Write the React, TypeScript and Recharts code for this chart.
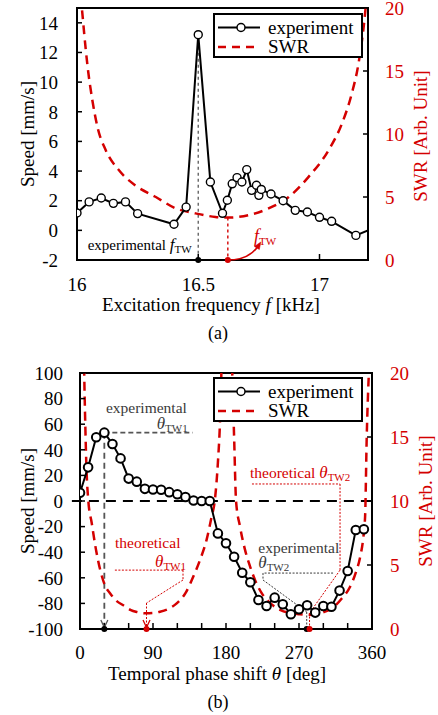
import React from "react";
import {
  ComposedChart,
  Line,
  XAxis,
  YAxis,
  ReferenceLine,
  ReferenceDot,
  ReferenceArea,
} from "recharts";

const SERIF = 'Liberation Serif, Tinos, Times New Roman, Times, DejaVu Serif, serif';
const RED = "#d40000";
const GRAY = "#3a3a3a";

// ---- (a) frequency sweep
const freqA = [16.0, 16.05, 16.1, 16.15, 16.2, 16.25, 16.4, 16.45, 16.5, 16.55, 16.6, 16.62, 16.64, 16.66, 16.68, 16.7, 16.72, 16.74, 16.75, 16.76, 16.8, 16.85, 16.9, 16.95, 17.0, 17.05, 17.15, 17.2];
const speedA = [1.17, 1.92, 2.18, 1.82, 1.92, 1.13, 0.41, 1.57, 13.2, 3.26, 1.15, 2.03, 3.14, 3.56, 3.26, 4.1, 2.7, 3.04, 2.36, 2.76, 2.45, 2.0, 1.35, 1.24, 0.88, 0.61, -0.34, 0.0];
const swrFreqA = [16.014, 16.021, 16.03, 16.044, 16.064, 16.085, 16.119, 16.174, 16.242, 16.325, 16.407, 16.489, 16.571, 16.626, 16.708, 16.79, 16.873, 16.955, 17.037, 17.092, 17.133, 17.16, 17.185, 17.195];
const swrA = [21, 19.8, 17.9, 15.3, 12.6, 10.5, 8.7, 7.1, 5.9, 5.0, 4.1, 3.7, 3.42, 3.37, 3.56, 4.09, 5.0, 6.6, 8.7, 10.8, 13.2, 15.5, 19.0, 21];
const freqTicks = [16, 16.5, 17];
const speedTicksA = [-2, 0, 2, 4, 6, 8, 10, 12, 14];
const swrTicks = [0, 5, 10, 15, 20];
const expFtw = 16.5;
const theoFtw = 16.622;
const theoFtwSwr = 3.37;

// ---- (b) phase sweep
const phaseB = [0, 10, 20, 30, 40, 50, 60, 70, 80, 90, 100, 110, 120, 130, 140, 150, 160, 170, 180, 190, 200, 210, 220, 230, 240, 250, 260, 270, 280, 290, 300, 310, 320, 330, 340, 350];
const speedB = [6.5, 26.3, 49.8, 53.4, 44.5, 33.3, 17.5, 15.1, 9.5, 9.0, 8.8, 6.9, 5.3, 3.1, 0.4, 0, 0, -25.3, -33, -43.5, -56, -63.5, -77.3, -82, -75.5, -80.7, -88.5, -84.6, -81.5, -87.2, -82, -82.6, -70, -54.7, -22.6, -22.1];
const swrPhaseB = [5, 6.5, 8, 10.3, 14.4, 19.7, 25, 30.8, 37, 45, 53.4, 62, 70, 81.4, 90, 98.6, 110, 119.2, 130, 139.7, 148, 156.2, 162, 166.5, 170, 172.6, 174.5, 181, 187.5, 190, 192.4, 197.3, 203, 209.6, 216, 224, 235, 246.6, 259, 271.3, 287.7, 300, 312.3, 323, 333, 340, 345.3, 349, 351.5, 353.5, 356.5];
const swrB = [20.5, 16, 12.5, 10, 8.3, 6.2, 4.6, 3.4, 2.8, 2.2, 1.85, 1.5, 1.33, 1.23, 1.25, 1.35, 1.6, 2.0, 2.8, 4.1, 5.4, 7, 8.7, 10.2, 13, 16.2, 20.5, null, 20.5, 15, 10, 8, 6.3, 4.9, 3.8, 2.8, 2.0, 1.5, 1.25, 1.15, 1.1, 1.3, 1.7, 2.4, 3.3, 4.4, 5.6, 7, 8.8, 15, 20.5];
const phaseTicks = [0, 30, 60, 90, 120, 150, 180, 210, 240, 270, 300, 330, 360];
const speedTicksB = [-100, -80, -60, -40, -20, 0, 20, 40, 60, 80, 100];
const expTheta1 = 30;
const theoTheta1 = 82;
const expTheta2 = 279.5;
const theoTheta2 = 283;

// annotation leader lines (data units, left axis)
const theo1Path = [[43, -54], [127, -54], [127, -61.7], [82, -79.7], [82, -100]];
const theo2Path = [[212, 13.3], [320.6, 13.3], [320.6, -54], [283, -87.5], [283, -100]];
const exp2Path = [[312, -56.3], [225.6, -56.3], [225.6, -61.7], [279.5, -86.7], [279.5, -100]];

const rowsA = freqA.map((x, i) => ({ x, v: speedA[i] }));
const swrRowsA = swrFreqA.map((x, i) => ({ x, v: swrA[i] }));
const rowsB = phaseB.map((x, i) => ({ x, v: speedB[i] }));
const swrRowsB = swrPhaseB.map((x, i) => ({ x, v: swrB[i] }));

const tickFont = { fontFamily: SERIF, fontSize: 19, fill: "#000" };
const axisLine = { stroke: "#000", strokeWidth: 2 };
const tickLine = { stroke: "#000", strokeWidth: 1.5 };

const segs = (pts: number[][]) =>
  pts.slice(1).map((p, i) => [
    { x: pts[i][0], y: pts[i][1] },
    { x: p[0], y: p[1] },
  ]);

const note = (content: React.ReactNode, fill: string, size = 15.5) => (p: any) => (
  <text x={p.cx} y={p.cy} fill={fill} fontSize={size} style={{ fontFamily: SERIF }}>
    {content}
  </text>
);

const arrowDown = (stroke: string) => (p: any) => (
  <path
    d={`M${p.cx - 3.5},${p.cy - 9} L${p.cx},${p.cy - 1.5} L${p.cx + 3.5},${p.cy - 9}`}
    stroke={stroke}
    strokeWidth={1.3}
    fill="none"
  />
);

const curvedArrow = (p: any) => (
  <g stroke={RED} fill={RED}>
    <path d={`M${p.cx},${p.cy} Q${p.cx + 22},${p.cy} ${p.cx + 31},${p.cy - 15}`} fill="none" strokeWidth={1.5} />
    <path d={`M${p.cx + 33},${p.cy - 18} L${p.cx + 31.5},${p.cy - 10.5} L${p.cx + 26.5},${p.cy - 13.5} Z`} strokeWidth={0.5} />
  </g>
);

const sub = (letter: string, idx: string, italicSize = 17) => (
  <>
    <tspan fontStyle="italic" fontSize={italicSize}>{letter}</tspan>
    <tspan fontSize={11} dy={3}>{idx}</tspan>
  </>
);

const makeDot = (last: number, r: number, sw: number) => (p: any) =>
  p.index === last ? (
    <g key={`d${p.index}`} />
  ) : (
    <circle key={`d${p.index}`} cx={p.cx} cy={p.cy} r={r} fill="#fff" stroke="#000" strokeWidth={sw} />
  );

function LegendBox({ top }: { top: number }) {
  return (
    <div
      style={{
        position: "absolute",
        left: 213,
        top,
        width: 150,
        height: 45,
        border: "2px solid #000",
        boxSizing: "border-box",
        background: "#fff",
      }}
    >
      <svg width={146} height={41} style={{ position: "absolute", left: 0, top: 0, fontFamily: SERIF }}>
        <line x1={3} x2={45} y1={12.5} y2={12.5} stroke="#000" strokeWidth={2} />
        <circle cx={26} cy={12.5} r={4} fill="#fff" stroke="#000" strokeWidth={1.5} />
        <text x={53} y={18.5} fontSize={19}>experiment</text>
        <line x1={3} x2={45} y1={32} y2={32} stroke={RED} strokeWidth={2.5} strokeDasharray="8 6" />
        <text x={53} y={38} fontSize={19}>SWR</text>
      </svg>
    </div>
  );
}

function ChartA() {
  const last = freqA.length - 1;
  return (
    <ComposedChart width={438} height={345} margin={{ top: 8, right: 0, bottom: 0, left: 0 }} style={{ fontFamily: SERIF }}>
      <XAxis
        type="number"
        dataKey="x"
        domain={[16, 17.2]}
        ticks={freqTicks}
        allowDataOverflow
        height={85}
        tickSize={-6}
        tickMargin={24}
        tick={tickFont}
        axisLine={axisLine}
        tickLine={tickLine}
        label={() => (
          <g style={{ fontFamily: SERIF }} fill="#000">
            <text x={211} y={311} textAnchor="middle" fontSize={19}>
              Excitation frequency <tspan fontStyle="italic">f</tspan> [kHz]
            </text>
            <text x={218} y={339} textAnchor="middle" fontSize={18}>(a)</text>
          </g>
        )}
      />
      <YAxis
        yAxisId="left"
        domain={[-2, 15]}
        ticks={speedTicksA}
        allowDataOverflow
        width={77}
        tickSize={-5}
        tickMargin={24}
        tick={tickFont}
        axisLine={axisLine}
        tickLine={tickLine}
        interval={0}
        label={() => (
          <text x={27} y={134} transform="rotate(-90 27 134)" textAnchor="middle" dominantBaseline="central" style={{ fontFamily: SERIF }} fontSize={19} fill="#000">
            Speed [mm/s]
          </text>
        )}
      />
      <YAxis
        yAxisId="right"
        orientation="right"
        domain={[0, 20]}
        ticks={swrTicks}
        allowDataOverflow
        width={70}
        tickSize={-5}
        tickMargin={22}
        tick={{ ...tickFont, fill: RED }}
        axisLine={axisLine}
        tickLine={tickLine}
        interval={0}
        label={() => (
          <text x={420} y={136} transform="rotate(-90 420 136)" textAnchor="middle" dominantBaseline="central" style={{ fontFamily: SERIF }} fontSize={19} fill={RED}>
            SWR [Arb. Unit]
          </text>
        )}
      />
      <ReferenceArea yAxisId="left" x1={16} x2={17.2} y1={-2} y2={15} fill="none" stroke="#000" strokeWidth={2} ifOverflow="visible" />
      <ReferenceLine yAxisId="left" segment={[{ x: expFtw, y: 13.2 }, { x: expFtw, y: -2 }]} stroke="#666" strokeWidth={1.4} strokeDasharray="3 3" />
      <ReferenceLine yAxisId="right" segment={[{ x: theoFtw, y: theoFtwSwr }, { x: theoFtw, y: 0 }]} stroke={RED} strokeWidth={1.4} strokeDasharray="3 3" />
      <Line data={swrRowsA} yAxisId="right" dataKey="v" type="monotone" stroke={RED} strokeWidth={2.5} strokeDasharray="9 6" dot={false} isAnimationActive={false} />
      <Line data={rowsA} yAxisId="left" dataKey="v" type="linear" stroke="#000" strokeWidth={2} dot={makeDot(last, 4, 1.4)} isAnimationActive={false} />
      <ReferenceDot yAxisId="left" x={expFtw} y={-2} r={3} fill="#000" stroke="none" ifOverflow="visible" />
      <ReferenceDot yAxisId="left" x={theoFtw} y={-2} r={3} fill={RED} stroke="none" ifOverflow="visible" shape={(p: any) => (
        <g>
          <circle cx={p.cx} cy={p.cy} r={3} fill={RED} />
          {curvedArrow(p)}
        </g>
      )} />
      <ReferenceDot yAxisId="left" x={16.044} y={-1.32} r={0} ifOverflow="visible" shape={note(<>experimental {sub("f", "TW", 17)}</>, "#000", 15)} />
      <ReferenceDot yAxisId="left" x={16.73} y={-0.8} r={0} ifOverflow="visible" shape={note(sub("f", "TW", 18), RED, 15)} />
    </ComposedChart>
  );
}

function ChartB() {
  return (
    <ComposedChart width={438} height={370} margin={{ top: 28, right: 0, bottom: 0, left: 0 }} style={{ fontFamily: SERIF }}>
      <XAxis
        type="number"
        dataKey="x"
        domain={[0, 360]}
        ticks={phaseTicks}
        interval={0}
        allowDataOverflow
        height={86}
        tickSize={-6}
        tickMargin={23}
        tick={tickFont}
        tickFormatter={(v: number) => (v % 90 === 0 ? String(v) : "")}
        axisLine={axisLine}
        tickLine={tickLine}
        label={() => (
          <g style={{ fontFamily: SERIF }} fill="#000">
            <text x={217} y={335} textAnchor="middle" fontSize={19}>
              Temporal phase shift <tspan fontStyle="italic">θ</tspan> [deg]
            </text>
            <text x={218} y={363} textAnchor="middle" fontSize={18}>(b)</text>
          </g>
        )}
      />
      <YAxis
        yAxisId="left"
        domain={[-100, 100]}
        ticks={speedTicksB}
        allowDataOverflow
        width={80}
        tickSize={-5}
        tickMargin={22}
        tick={tickFont}
        axisLine={axisLine}
        tickLine={tickLine}
        interval={0}
        label={() => (
          <text x={27} y={156} transform="rotate(-90 27 156)" textAnchor="middle" dominantBaseline="central" style={{ fontFamily: SERIF }} fontSize={19} fill="#000">
            Speed [mm/s]
          </text>
        )}
      />
      <YAxis
        yAxisId="right"
        orientation="right"
        domain={[0, 20]}
        ticks={swrTicks}
        allowDataOverflow
        width={66}
        tickSize={-5}
        tickMargin={23}
        tick={{ ...tickFont, fill: RED }}
        axisLine={axisLine}
        tickLine={tickLine}
        interval={0}
        label={() => (
          <text x={425} y={156} transform="rotate(-90 425 156)" textAnchor="middle" dominantBaseline="central" style={{ fontFamily: SERIF }} fontSize={19} fill={RED}>
            SWR [Arb. Unit]
          </text>
        )}
      />
      <ReferenceArea yAxisId="left" x1={0} x2={360} y1={-100} y2={100} fill="none" stroke="#000" strokeWidth={2} ifOverflow="visible" />
      <ReferenceLine yAxisId="left" segment={[{ x: -10, y: 0 }, { x: 360, y: 0 }]} stroke="#000" strokeWidth={2} strokeDasharray="10 7" ifOverflow="visible" />
      <ReferenceLine yAxisId="left" segment={[{ x: expTheta1, y: 53.4 }, { x: expTheta1, y: -100 }]} stroke="#555" strokeWidth={1.8} strokeDasharray="6 4" />
      <ReferenceLine yAxisId="left" segment={[{ x: expTheta1, y: 53.4 }, { x: 139, y: 53.4 }]} stroke="#555" strokeWidth={1.8} strokeDasharray="5 3" />
      {segs(theo1Path).map((s, i) => (
        <ReferenceLine key={`t1${i}`} yAxisId="left" segment={s} stroke={RED} strokeWidth={1} strokeDasharray="2 1.5" />
      ))}
      {segs(theo2Path).map((s, i) => (
        <ReferenceLine key={`t2${i}`} yAxisId="left" segment={s} stroke={RED} strokeWidth={1} strokeDasharray="2 1.5" />
      ))}
      {segs(exp2Path).map((s, i) => (
        <ReferenceLine key={`e2${i}`} yAxisId="left" segment={s} stroke={GRAY} strokeWidth={1} strokeDasharray="2 1.5" />
      ))}
      <Line data={swrRowsB} yAxisId="right" dataKey="v" type="monotone" stroke={RED} strokeWidth={2.5} strokeDasharray="9 6" dot={false} isAnimationActive={false} />
      <Line data={rowsB} yAxisId="left" dataKey="v" type="linear" stroke="#000" strokeWidth={2} dot={{ r: 4.3, fill: "#fff", stroke: "#000", strokeWidth: 2 }} isAnimationActive={false} />
      <ReferenceDot yAxisId="left" x={expTheta1} y={-100} r={0} ifOverflow="visible" shape={arrowDown("#555")} />
      <ReferenceDot yAxisId="left" x={theoTheta1} y={-100} r={0} ifOverflow="visible" shape={arrowDown(RED)} />
      <ReferenceDot yAxisId="left" x={expTheta1} y={-100} r={3} fill="#000" stroke="none" ifOverflow="visible" />
      <ReferenceDot yAxisId="left" x={theoTheta1} y={-100} r={3} fill={RED} stroke="none" ifOverflow="visible" />
      <ReferenceDot yAxisId="left" x={expTheta2} y={-100} r={3} fill="#000" stroke="none" ifOverflow="visible" />
      <ReferenceDot yAxisId="left" x={theoTheta2} y={-100} r={3} fill={RED} stroke="none" ifOverflow="visible" />
      <ReferenceDot yAxisId="left" x={32} y={68.5} r={0} ifOverflow="visible" shape={note("experimental", GRAY)} />
      <ReferenceDot yAxisId="left" x={94.6} y={56.6} r={0} ifOverflow="visible" shape={note(sub("θ", "TW1"), GRAY)} />
      <ReferenceDot yAxisId="left" x={43.2} y={-37} r={0} ifOverflow="visible" shape={note("theoretical", RED)} />
      <ReferenceDot yAxisId="left" x={92.5} y={-51.5} r={0} ifOverflow="visible" shape={note(sub("θ", "TW1"), RED)} />
      <ReferenceDot yAxisId="left" x={209.6} y={17.7} r={0} ifOverflow="visible" shape={note(<>theoretical {sub("θ", "TW2")}</>, RED)} />
      <ReferenceDot yAxisId="left" x={219.8} y={-40.9} r={0} ifOverflow="visible" shape={note("experimental", GRAY)} />
      <ReferenceDot yAxisId="left" x={219.8} y={-52.6} r={0} ifOverflow="visible" shape={note(sub("θ", "TW2"), GRAY)} />
    </ComposedChart>
  );
}

export default function App() {
  return (
    <div style={{ position: "absolute", left: 0, top: 0, width: 438, height: 715, background: "#fff", fontFamily: SERIF }}>
      <div style={{ position: "absolute", left: 0, top: 0 }}>
        <ChartA />
        <LegendBox top={13} />
      </div>
      <div style={{ position: "absolute", left: 0, top: 345 }}>
        <ChartB />
        <LegendBox top={32} />
      </div>
    </div>
  );
}
